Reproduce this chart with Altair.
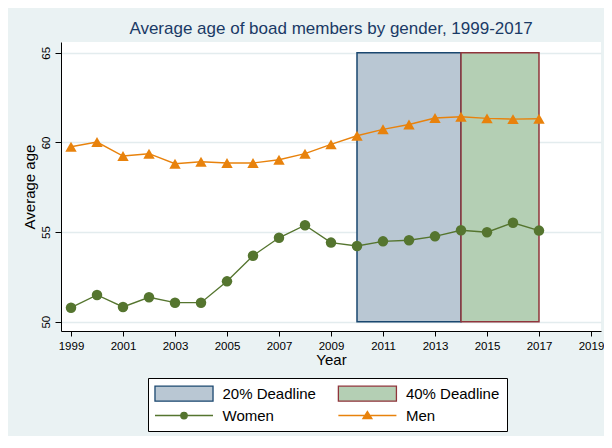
import altair as alt
import pandas as pd

# ---- data ----
years = list(range(1999, 2018))
women = [50.78, 51.49, 50.82, 51.36, 51.06, 51.06, 52.25, 53.68, 54.68, 55.38,
         54.41, 54.22, 54.48, 54.54, 54.76, 55.10, 54.99, 55.52, 55.08]
men = [59.76, 60.02, 59.24, 59.37, 58.81, 58.92, 58.85, 58.85, 59.03, 59.37,
       59.89, 60.37, 60.73, 61.00, 61.36, 61.43, 61.34, 61.30, 61.32]

deadline_labels = ["20% Deadline", "40% Deadline"]
deadline_start = [2010, 2014]
deadline_end = [2014, 2017]
deadline_low = [50, 50]
deadline_high = [65, 65]

series_order = ["20% Deadline", "40% Deadline", "Women", "Men"]
fill_colors = ["#b9c7d3", "#b4cfb4", "#55752f", "#e8820c"]
stroke_colors = ["#1a476f", "#90353b", "#55752f", "#e8820c"]

x_ticks = list(range(1999, 2020, 2))
y_ticks = [50, 55, 60, 65]

# ---- tables ----
lines_df = pd.DataFrame({
    "year": years * 2,
    "age": women + men,
    "series": ["Women"] * len(years) + ["Men"] * len(years),
})
boxes_df = pd.DataFrame({
    "series": deadline_labels,
    "start": deadline_start,
    "end": deadline_end,
    "low": deadline_low,
    "high": deadline_high,
})

FONT = "Liberation Sans"
xscale = alt.Scale(domain=[1998.615, 2019.385], nice=False, zero=False)
yscale = alt.Scale(domain=[49.48, 65.6], nice=False, zero=False)
fill_scale = alt.Scale(domain=series_order, range=fill_colors)
stroke_scale = alt.Scale(domain=series_order, range=stroke_colors)

shape_expr = (
    "datum.value === 'Women' ? "
    "'M-3.87,0H3.87M0.43,0A0.43,0.43 0 1,1 -0.43,0A0.43,0.43 0 1,1 0.43,0Z' : "
    "datum.value === 'Men' ? 'M-3.87,0H3.87M-0.6,0.4L0,-0.55L0.6,0.4Z' : "
    "'M-3.87,-1H3.87V1H-3.87Z'"
)

legend = alt.Legend(
    title=None,
    orient="none",
    legendX=87,
    legendY=336,
    columns=2,
    direction="horizontal",
    symbolSize=225,
    symbolType={"expr": shape_expr},
    symbolStrokeColor={"expr": "scale('stroke', datum.value)"},
    symbolStrokeWidth=1.3,
    symbolOpacity=1,
    symbolOffset=20.5,
    labelOffset=30,
    labelExpr="datum.label + '\u00a0'",
    labelFont=FONT,
    labelFontSize=15,
    labelColor="black",
    labelLimit=400,
    padding=7,
    rowPadding=3,
    columnPadding=19.4,
    strokeColor="black",
    fillColor="white",
)

x_axis = alt.Axis(
    values=x_ticks, format="d", title="Year",
    titleFont=FONT, titleFontSize=15, titleFontWeight="normal", titleColor="black",
    titleY=33, titleBaseline="alphabetic",
    labelFont=FONT, labelFontSize=11.5, labelColor="black",
    labelBaseline="alphabetic", labelPadding=13, labelFlush=False, labelOverlap=False,
    tickSize=5, tickColor="black", domainColor="black", domainWidth=1, tickWidth=1,
    grid=False,
)
y_axis = alt.Axis(
    values=y_ticks, title="Average age",
    titleFont=FONT, titleFontSize=15, titleFontWeight="normal", titleColor="black",
    titleAngle=270, titleX=-26.3, titleY=144.5, titleAlign="center", titleBaseline="alphabetic",
    labelFont=FONT, labelFontSize=11.5, labelColor="black",
    labelAngle=270, labelAlign="center", labelBaseline="alphabetic", labelPadding=5.3,
    tickSize=6, tickColor="black", domainColor="black", domainWidth=1, tickWidth=1,
    grid=True, gridColor="#e3ecee", gridWidth=1.5,
)

boxes = alt.Chart(boxes_df).mark_rect(strokeWidth=1.5).encode(
    x=alt.X("start:Q", scale=xscale, axis=x_axis),
    x2="end:Q",
    y=alt.Y("low:Q", scale=yscale, axis=y_axis),
    y2="high:Q",
    fill=alt.Fill("series:N", scale=fill_scale, legend=legend),
    stroke=alt.Stroke("series:N", scale=stroke_scale, legend=None),
)

lines = alt.Chart(lines_df).mark_line(strokeWidth=1.4).encode(
    x=alt.X("year:Q", scale=xscale, axis=x_axis),
    y=alt.Y("age:Q", scale=yscale, axis=y_axis),
    stroke=alt.Stroke("series:N", scale=stroke_scale, legend=None),
)

points = alt.Chart(lines_df).mark_point(filled=True, opacity=1, strokeWidth=0).encode(
    x=alt.X("year:Q", scale=xscale, axis=x_axis),
    y=alt.Y("age:Q", scale=yscale, axis=y_axis),
    fill=alt.Fill("series:N", scale=fill_scale, legend=legend),
    shape=alt.Shape("series:N",
                    scale=alt.Scale(domain=["Women", "Men"], range=["circle", "triangle-up"]),
                    legend=None),
    size=alt.Size("series:N",
                  scale=alt.Scale(domain=["Women", "Men"], range=[110, 130]),
                  legend=None),
)

chart = alt.layer(boxes, lines, points).properties(
    width=540,
    height=289,
    autosize=alt.AutoSizeParams(type="none"),
    padding={"left": 53, "top": 34, "right": 3, "bottom": 105},
    background="#eaf2f3",
    title=alt.TitleParams(
        "Average age of boad members by gender, 1999-2017",
        font=FONT, fontSize=17, fontWeight="normal", color="#1a3a66",
        anchor="middle", offset=4,
    ),
).configure_view(fill="white", stroke=None)

chart.save("out.html", embed_options={"renderer": "svg", "actions": False})
